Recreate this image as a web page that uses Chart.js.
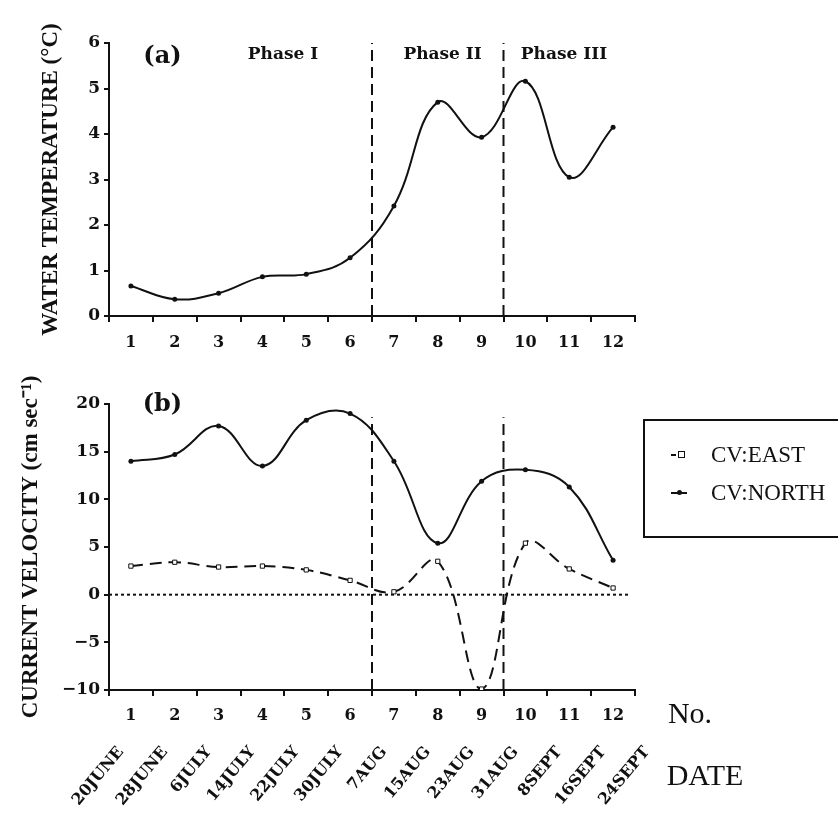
<!DOCTYPE html>
<html>
<head>
<meta charset="utf-8">
<title>Water temperature and current velocity</title>
<script src="https://cdn.jsdelivr.net/npm/chart.js@4.4.0/dist/chart.umd.min.js"></script>
<style>
    body { margin: 0; background: #fff; width: 838px; height: 813px; overflow: hidden; position: relative; }
    #tempChart { position: absolute; left: 0; top: 0; }
    #cvChart { position: absolute; left: 0; top: 360px; }
    #cvLegend {
        position: absolute; left: 643px; top: 419px; width: 210px; height: 119px;
        border: 2px solid #111; box-sizing: border-box;
        font-family: "Liberation Serif", serif; font-size: 23px; color: #111;
    }
    #cvLegend .row { position: absolute; left: 26px; height: 24px; display: flex; align-items: center; }
    #cvLegend .mark { width: 40px; position: relative; height: 24px; }
    #cvLegend .seg { position: absolute; top: 11px; height: 2px; background: #111; }
    #cvLegend .sq { position: absolute; top: 8px; width: 5px; height: 5px; border: 1px solid #111; background: #fff; }
    #cvLegend .dot { position: absolute; top: 9px; width: 5px; height: 5px; border-radius: 50%; background: #111; }
</style>
</head>
<body>
<canvas id="tempChart" width="838" height="360"></canvas>
<canvas id="cvChart" width="838" height="453"></canvas>
<div id="cvLegend"></div>

<script>
// --- Data ---
const sampleNo = [1, 2, 3, 4, 5, 6, 7, 8, 9, 10, 11, 12];
const sampleDates = ['20JUNE', '28JUNE', '6JULY', '14JULY', '22JULY', '30JULY', '7AUG',
                     '15AUG', '23AUG', '31AUG', '8SEPT', '16SEPT', '24SEPT'];
const waterTemp = [0.66, 0.37, 0.50, 0.86, 0.92, 1.28, 2.42, 4.70, 3.93, 5.16, 3.05, 4.15];
const cvEast = [3.0, 3.4, 2.9, 3.0, 2.6, 1.5, 0.3, 3.5, -9.9, 5.4, 2.7, 0.7];
const cvNorth = [14.0, 14.7, 17.7, 13.5, 18.3, 19.0, 14.0, 5.4, 11.9, 13.1, 11.3, 3.6];
const phaseBreaks = [6.5, 9.5];
const phaseNames = ['Phase I', 'Phase II', 'Phase III'];
const tempTicks = [0, 1, 2, 3, 4, 5, 6];
const cvTicks = [-10, -5, 0, 5, 10, 15, 20];

const INK = '#111';
const TICK_FONT = { family: 'DejaVu Serif', weight: 'bold', size: 16 };
const TITLE_FONT = { family: 'Liberation Serif', weight: 'bold', size: 23 };

Chart.defaults.color = INK;
Chart.defaults.animation = false;

function pts(ys) {
    return ys.map((y, i) => ({ x: sampleNo[i], y: y }));
}

// ticks at the half steps (marks) and whole steps (sample numbers)
function numberTicks(scale) {
    const t = [];
    for (let v = 0.5; v <= 12.5; v += 0.5) t.push({ value: v });
    scale.ticks = t;
}

function sampleAxis(height, pad) {
    return {
        type: 'linear', min: 0.5, max: 12.5,
        afterBuildTicks: numberTicks,
        afterFit: s => { s.height = height; s.paddingLeft = 0; s.paddingRight = 0; },
        border: { display: true, color: INK, width: 2 },
        grid: {
            drawOnChartArea: false, tickLength: 6,
            color: INK,
            lineWidth: c => Number.isInteger(c.tick.value) ? 0 : 2,
            tickColor: c => Number.isInteger(c.tick.value) ? 'rgba(0,0,0,0)' : INK
        },
        ticks: {
            autoSkip: false, maxRotation: 0, padding: pad, font: TICK_FONT,
            callback: v => Number.isInteger(v) ? String(v) : ''
        }
    };
}

function valueAxis(min, max, ticks, title, titlePad) {
    return {
        type: 'linear', min: min, max: max,
        afterBuildTicks: s => { s.ticks = ticks.map(v => ({ value: v })); },
        afterFit: s => { s.width = 109; s.paddingTop = 0; s.paddingBottom = 0; },
        border: { display: true, color: INK, width: 2 },
        grid: { drawOnChartArea: false, tickLength: 5, color: INK, lineWidth: 2 },
        ticks: {
            padding: 4, font: { family: 'DejaVu Serif', weight: 'bold', size: 17 },
            callback: v => String(v).replace('-', '\u2212')
        },
        title: { display: true, text: title, font: TITLE_FONT, color: INK, padding: { top: titlePad, bottom: 0 } }
    };
}

function vline(x, y0, y1) {
    return {
        type: 'line', data: [{ x: x, y: y0 }, { x: x, y: y1 }],
        borderColor: INK, borderWidth: 2, borderDash: [11, 6],
        pointRadius: 0, tension: 0, label: ''
    };
}

// free text drawn on the chart canvas
function textPlugin(id, items) {
    return {
        id: id,
        afterDraw(chart) {
            const ctx = chart.ctx;
            ctx.save();
            ctx.fillStyle = INK;
            ctx.textAlign = 'center';
            ctx.textBaseline = 'middle';
            items(chart).forEach(it => {
                ctx.font = it.font;
                ctx.fillText(it.text, it.x, it.y);
            });
            ctx.restore();
        }
    };
}

// --- (a) water temperature ---
const tempChart = new Chart(document.getElementById('tempChart'), {
    type: 'line',
    data: {
        datasets: [
            {
                label: 'Water temperature',
                data: pts(waterTemp),
                borderColor: INK, borderWidth: 2,
                pointRadius: 2.5, pointBackgroundColor: INK, pointBorderWidth: 0,
                tension: 0.4
            },
            vline(phaseBreaks[0], 0, 6),
            vline(phaseBreaks[1], 0, 6)
        ]
    },
    options: {
        responsive: false,
        devicePixelRatio: 1,
        layout: { padding: { top: 43, right: 203, left: 0, bottom: 0 } },
        plugins: { legend: { display: false }, tooltip: { enabled: false } },
        scales: {
            x: sampleAxis(44, 11),
            y: valueAxis(0, 6, tempTicks, 'WATER TEMPERATURE (\u00B0C)', 37)
        }
    },
    plugins: [textPlugin('tempText', chart => {
        const xs = chart.scales.x, ys = chart.scales.y;
        const f = 'bold 17px "DejaVu Serif"';
        return [
            { text: '(a)', x: xs.getPixelForValue(1.72), y: ys.getPixelForValue(5.7), font: 'bold 24px "DejaVu Serif"' },
            { text: phaseNames[0], x: xs.getPixelForValue(4.47), y: ys.getPixelForValue(5.74), font: f },
            { text: phaseNames[1], x: xs.getPixelForValue(8.11), y: ys.getPixelForValue(5.74), font: f },
            { text: phaseNames[2], x: xs.getPixelForValue(10.88), y: ys.getPixelForValue(5.74), font: f }
        ];
    })]
});

// --- (b) current velocity ---
const cvDateAxis = {
    type: 'linear', min: 0.5, max: 12.5, weight: 1,
    afterBuildTicks: s => { s.ticks = sampleDates.map((d, i) => ({ value: i + 0.5 })); },
    afterFit: s => { s.height = 83; s.paddingLeft = 0; s.paddingRight = 0; },
    border: { display: false },
    grid: { display: false, drawTicks: false },
    ticks: {
        autoSkip: false, minRotation: 50, maxRotation: 50, padding: 13, labelOffset: 12,
        font: { family: 'DejaVu Serif', weight: 'bold', size: 16 },
        callback: (v, i) => sampleDates[i]
    }
};

const cvChart = new Chart(document.getElementById('cvChart'), {
    type: 'line',
    data: {
        datasets: [
            {
                label: 'CV:EAST',
                data: pts(cvEast),
                borderColor: INK, borderWidth: 2, borderDash: [12, 7],
                pointStyle: 'rect', pointRadius: 3, pointBackgroundColor: '#fff',
                pointBorderColor: INK, pointBorderWidth: 1,
                tension: 0.4
            },
            {
                label: 'CV:NORTH',
                data: pts(cvNorth),
                borderColor: INK, borderWidth: 2,
                pointRadius: 2.5, pointBackgroundColor: INK, pointBorderWidth: 0,
                tension: 0.4
            },
            {
                type: 'line', label: '', data: [{ x: 0.5, y: 0 }, { x: 12.4, y: 0 }],
                borderColor: INK, borderWidth: 2, borderDash: [3, 3], pointRadius: 0, tension: 0
            },
            vline(phaseBreaks[0], -10, 18.6),
            vline(phaseBreaks[1], -10, 18.6)
        ]
    },
    options: {
        responsive: false,
        devicePixelRatio: 1,
        layout: { padding: { top: 44, right: 203, left: 0, bottom: 0 } },
        plugins: { legend: { display: false }, tooltip: { enabled: false } },
        scales: {
            x: Object.assign(sampleAxis(40, 10), { weight: 0 }),
            xDate: cvDateAxis,
            y: valueAxis(-10, 20, cvTicks, 'CURRENT VELOCITY (cm sec\u207B\u00B9)', 17)
        }
    },
    plugins: [textPlugin('cvText', chart => {
        const xs = chart.scales.x, ys = chart.scales.y;
        const f = '30px "Liberation Serif"';
        return [
            { text: '(b)', x: xs.getPixelForValue(1.72), y: ys.getPixelForValue(19.9), font: 'bold 24px "DejaVu Serif"' },
            { text: 'No.', x: 690, y: 355, font: f },
            { text: 'DATE', x: 705, y: 417, font: f }
        ];
    })]
});

// --- legend box built from the two series ---
function buildLegend(chart) {
    const box = document.getElementById('cvLegend');
    const rows = [
        { ds: chart.data.datasets[0], top: 22, mark: '<span class="seg" style="left:0;width:5px"></span><span class="sq" style="left:7px"></span>' },
        { ds: chart.data.datasets[1], top: 60, mark: '<span class="seg" style="left:0;width:16px"></span><span class="dot" style="left:6px"></span>' }
    ];
    box.innerHTML = rows.map(r =>
        `<div class="row" style="top:${r.top}px"><span class="mark">${r.mark}</span><span>${r.ds.label}</span></div>`
    ).join('');
}
buildLegend(cvChart);
</script>
</body>
</html>
